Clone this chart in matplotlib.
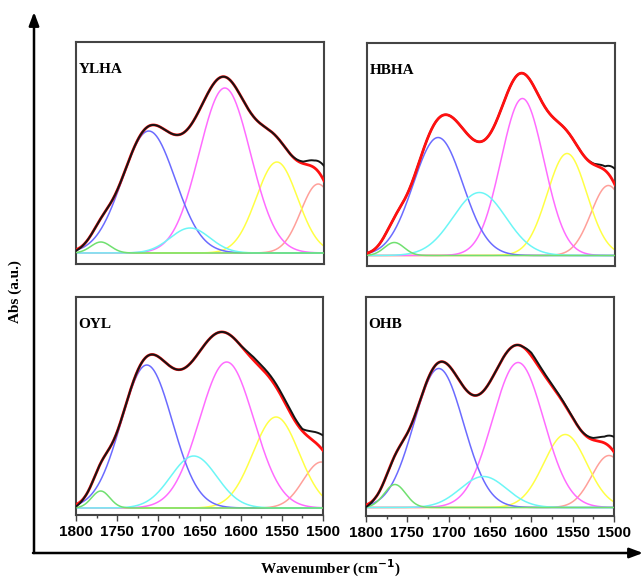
import numpy as np
import matplotlib
matplotlib.use("Agg")
import matplotlib.pyplot as plt
from matplotlib.ticker import MultipleLocator

# ---- band-fitting results for the amide region (1800-1500 cm-1) ----
samples = ["YLHA", "HBHA", "OYL", "OHB"]

# component order: ~1770, ~1715, ~1660, ~1615, ~1558, ~1506 cm-1
band_colors = ["#70e070", "#6b6bff", "#6cf6f6", "#ff6cff", "#ffff45", "#ffa09a"]
# drawing order: the low-frequency bands first, so the baseline shows green/cyan
band_z = [2.6, 2.4, 2.5, 2.3, 2.2, 2.1]

ylha_centres = [1770, 1712, 1662, 1620, 1557, 1507]
ylha_heights = [11, 122, 25, 165, 91, 69]
ylha_sigmas = [12, 32, 24, 31, 25, 21]

hbha_centres = [1767, 1714, 1664, 1612, 1558, 1508]
hbha_heights = [13, 118, 63, 157, 102, 70]
hbha_sigmas = [12, 30, 32, 26, 24, 21]

oyl_centres = [1770, 1714, 1657, 1617, 1557, 1502]
oyl_heights = [17, 143, 52, 146, 91, 46]
oyl_sigmas = [11, 31, 28, 33, 28, 22]

ohb_centres = [1765, 1712, 1658, 1616, 1559, 1506]
ohb_heights = [23, 139, 31, 145, 73, 52]
ohb_sigmas = [13, 30, 28, 31, 26, 21]

# measured spectrum minus fitted envelope
resid_wn = [1800, 1790, 1610, 1600, 1585, 1540, 1525, 1512, 1500]
ylha_resid = [-1, 0, 0, 0, 0, 0, 2, 7, 15]
hbha_resid = [0, 0, 0, 0, 0, 0, 1, 4, 16]
oyl_resid = [-2, 0, 0, 0, 3, 3, 2, 9, 15]
ohb_resid = [-2, 0, 0, 3, 2, 0, 2, 6, 15]

centres = [ylha_centres, hbha_centres, oyl_centres, ohb_centres]
heights = [ylha_heights, hbha_heights, oyl_heights, ohb_heights]
sigmas = [ylha_sigmas, hbha_sigmas, oyl_sigmas, ohb_sigmas]
resids = [ylha_resid, hbha_resid, oyl_resid, ohb_resid]
fit_on_top = [False, True, False, False]

x_ticks = [1800, 1750, 1700, 1650, 1600, 1550, 1500]

W, H = 644, 578
fig = plt.figure(figsize=(W / 100, H / 100), dpi=100)

# panel boxes in pixels: left, top, right, bottom
boxes = [(76, 42, 324, 264), (367, 43, 615, 266),
         (76, 297, 323, 515), (366, 297, 614, 516)]
baselines = [253, 255.5, 508, 507.5]

serif_bold = dict(family="Liberation Serif", weight="bold")
frame_color = "#444444"

wn = np.linspace(1800, 1500, 601)

for i, name in enumerate(samples):
    l, t, r, b = boxes[i]
    ax = fig.add_axes([l / W, 1 - b / H, (r - l) / W, (b - t) / H])
    # same vertical scale in every panel, zero at the fitted baseline
    ax.set_ylim(-(b - baselines[i]), baselines[i] - t)
    ax.set_xlim(1800, 1500)

    total = np.zeros_like(wn)
    for c, h, s, col, z in zip(centres[i], heights[i], sigmas[i],
                               band_colors, band_z):
        comp = h * np.exp(-0.5 * ((wn - c) / s) ** 2)
        total += comp
        ax.plot(wn, comp, color=col, lw=1.1, zorder=z)
    measured = total + np.interp(wn, resid_wn[::-1], resids[i][::-1])
    zf, zm = (5, 4) if fit_on_top[i] else (4, 5)
    ax.plot(wn, total, color="#ff1010", lw=2.0, zorder=zf)
    ax.plot(wn, measured, color="#151515", lw=1.4, zorder=zm)

    for sp in ax.spines.values():
        sp.set_color(frame_color)
        sp.set_linewidth(1.5)
    ax.set_yticks([])
    if i >= 2:
        ax.set_xticks(x_ticks)
        ax.set_xticklabels([str(v) for v in x_ticks],
                           family="Liberation Sans", weight="bold", fontsize=11)
        ax.xaxis.set_minor_locator(MultipleLocator(25))
        ax.tick_params(axis="x", which="major", direction="out", length=4,
                       width=1.0, color=frame_color, pad=3)
        ax.tick_params(axis="x", which="minor", direction="out", length=2.5,
                       width=1.0, color=frame_color)
    else:
        ax.set_xticks([])

    ax.text(0.01, 0.905, name, transform=ax.transAxes, fontsize=11,
            va="top", ha="left", **serif_bold)

# outer axes with arrows
ov = fig.add_axes([0, 0, 1, 1], zorder=-1)
ov.set_xlim(0, W)
ov.set_ylim(H, 0)
ov.axis("off")
ov.annotate("", xy=(34, 12), xytext=(34, 553),
            arrowprops=dict(arrowstyle="-|>,head_length=0.8,head_width=0.3",
                            lw=1.8, color="black", shrinkA=0, shrinkB=0))
ov.annotate("", xy=(643, 553), xytext=(33, 553),
            arrowprops=dict(arrowstyle="-|>,head_length=0.8,head_width=0.3",
                            lw=1.8, color="black", shrinkA=0, shrinkB=0))
ov.text(15, 292, "Abs (a.u.)", rotation=90, ha="center", va="center",
        fontsize=11, **serif_bold)
ov.text(330, 568, r"Wavenumber (cm$^{\mathbf{-1}}$)", ha="center", va="center",
        fontsize=11, **serif_bold)

fig.savefig("out.png", dpi=100)
